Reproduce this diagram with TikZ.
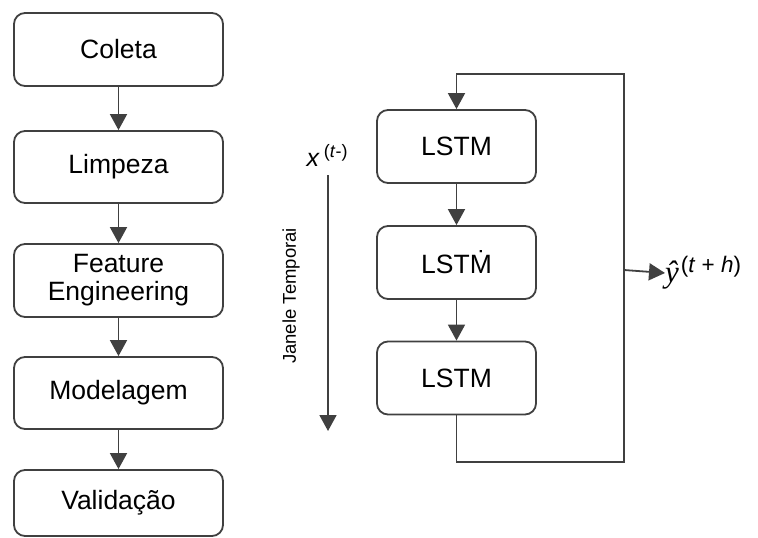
\documentclass[tikz,border=0pt]{standalone}
\usepackage{fontspec}
\setmainfont{Liberation Sans}
\newfontfamily\serifit{Liberation Serif}
\usetikzlibrary{arrows.meta}
\definecolor{ln}{HTML}{404040}
\tikzset{
  box/.style={draw=ln, line width=1.8pt, rounded corners=11pt, align=center, font=\fontsize{26.5}{31}\selectfont, inner sep=0pt},
  lbox/.style={box, minimum width=209pt},
  rbox/.style={box, minimum width=159pt, minimum height=73pt},
  conn/.style={draw=ln, line width=1.8pt},
  arr/.style={conn, -{Triangle[width=17pt,length=16pt]}}
}
\begin{document}
\begin{tikzpicture}[x=1pt,y=-1pt]
\useasboundingbox (0,0) rectangle (758,538);
\node[lbox, minimum height=73pt] (c) at (118.5,49.5) {Coleta};
\node[lbox, minimum height=72pt] (l) at (118.5,167) {Limpeza};
\node[lbox, minimum height=73pt] (f) at (118.5,280.5) {Feature\\[-3pt]Engineering};
\node[lbox, minimum height=72pt] (m) at (118.5,393) {Modelagem};
\node[lbox, minimum height=66pt] (v) at (118.5,503) {Validação};
\draw[arr] (c) -- (l);
\draw[arr] (l) -- (f);
\draw[arr] (f) -- (m);
\draw[arr] (m) -- (v);

\node[rbox] (s1) at (456.5,146.5) {LSTM};
\node[rbox] (s2) at (456.5,262.5) {LST\.{M}};
\node[rbox] (s3) at (456.5,378) {LSTM};
\draw[arr] (s1) -- (s2);
\draw[arr] (s2) -- (s3);
\coordinate (b1) at (456.5,462);
\coordinate (b2) at (624,462);
\coordinate (t2) at (624,74);
\coordinate (t1) at (456.5,74);
\coordinate (o1) at (624,270);
\draw[arr] (s3.south) -- (b1) -- (b2) -- (t2) -- (t1) -- (s1.north);
\node[anchor=west, inner sep=0pt, font=\fontsize{31}{34}\selectfont] (yh) at (665,273) {{\serifit\itshape ŷ}\kern2pt\raisebox{10pt}{\fontsize{22.5}{26}\selectfont(\textit{t} + \textit{h})}};
\draw[arr] (o1) -- (yh.west);

\node[inner sep=0pt, font=\fontsize{25}{28}\selectfont] (x) at (327,155) {\textit{x}\,\raisebox{9pt}{\fontsize{18}{20}\selectfont(\textit{t}-)}};
\coordinate (xa) at (328,175);
\coordinate (xb) at (328,431);
\draw[arr] (xa) -- (xb);
\node[rotate=90, inner sep=0pt, font=\fontsize{18.5}{22}\selectfont] (jt) at (291,296) {Janele Temporai};
\end{tikzpicture}
\end{document}
